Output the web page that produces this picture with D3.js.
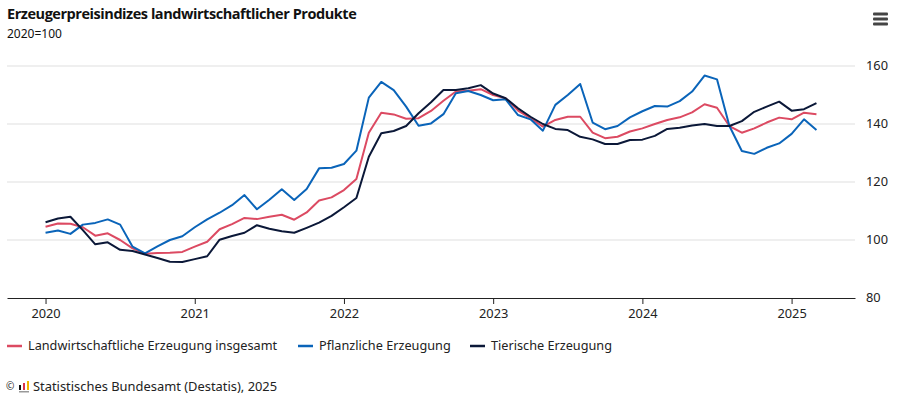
<!DOCTYPE html>
<html><head><meta charset="utf-8">
<script src="https://cdn.jsdelivr.net/npm/d3@7"></script>
<style>
body{margin:0;background:#fff;}
svg{display:block;font-family:"Noto Sans",sans-serif;}
</style></head>
<body><svg id="c" width="909" height="398"></svg>
<script>
const title = "Erzeugerpreisindizes landwirtschaftlicher Produkte";
const subtitle = "2020=100";
const yearLabels = ["2020","2021","2022","2023","2024","2025"];
const yearTickMonths = [0,12,24,36,48,60];
const yTicks = [80,100,120,140,160];
const seriesNames = ["Landwirtschaftliche Erzeugung insgesamt","Pflanzliche Erzeugung","Tierische Erzeugung"];
const seriesColors = ["#dc4a62","#0a64b9","#0b1838"];
const insgesamt = [104.6,105.7,105.6,104.4,101.5,102.3,100.0,97.1,95.3,95.5,95.6,95.9,97.7,99.4,103.7,105.5,107.6,107.2,108.0,108.7,107.0,109.5,113.6,114.7,117.2,121.0,137.0,143.9,143.3,141.8,142.0,144.5,148.0,151.2,151.5,152.0,150.0,148.9,144.6,142.0,139.1,141.4,142.5,142.5,137.0,135.1,135.6,137.4,138.5,140.0,141.4,142.3,144.0,146.8,145.6,139.3,137.0,138.5,140.5,142.2,141.6,143.9,143.4];
const pflanzlich = [102.5,103.3,102.1,105.3,105.9,107.1,105.3,97.7,95.4,97.8,100.0,101.3,104.4,107.1,109.4,112.0,115.5,110.6,113.9,117.5,113.8,117.6,124.7,124.9,126.2,130.8,149.1,154.5,151.7,146.0,139.4,140.2,143.4,150.6,151.4,150.0,148.2,148.5,143.1,141.6,137.7,146.6,150.0,153.8,140.5,138.2,139.3,142.3,144.4,146.2,146.0,147.9,151.2,156.7,155.4,139.3,130.7,129.7,131.8,133.3,136.6,141.6,137.9];
const tierisch = [106.1,107.4,108.0,103.4,98.5,99.2,96.6,96.2,95.0,93.8,92.5,92.4,93.4,94.4,100.1,101.4,102.5,105.1,103.9,103.0,102.5,104.2,106.0,108.3,111.3,114.5,128.7,136.8,137.6,139.3,143.7,147.5,151.7,151.7,152.3,153.4,150.5,148.9,145.4,142.5,140.0,138.3,137.9,135.6,134.7,133.1,133.1,134.5,134.6,135.9,138.3,138.7,139.5,140.0,139.3,139.3,141.0,144.2,146.0,147.7,144.6,145.1,147.2];
const footer = "Statistisches Bundesamt (Destatis), 2025";

const svg = d3.select("#c");
const L = 7, R = 855, T = 66, B = 298;
const x = d3.scaleLinear().domain([-3.1, 65.1]).range([L, R]);
const y = d3.scaleLinear().domain([80, 160]).range([B, T]);

// title
svg.append("text").attr("x",7).attr("y",19).attr("font-size",14.5).attr("font-weight",700)
  .attr("fill","#111").attr("font-family","'Open Sans',sans-serif").attr("letter-spacing",-0.45).text(title);
svg.append("text").attr("x",7).attr("y",38).attr("font-size",12).attr("fill","#111").text(subtitle);

// hamburger
[14,19,24].forEach(yy=>svg.append("rect").attr("x",873).attr("y",yy-1.5).attr("width",15).attr("height",3).attr("rx",1).attr("fill","#444"));

// grid
svg.append("g").selectAll("line").data(yTicks.filter(d=>d>80)).join("line")
  .attr("x1",L).attr("x2",R).attr("y1",d=>y(d)).attr("y2",d=>y(d))
  .attr("stroke","#efefef").attr("stroke-width",2);

// y labels
svg.append("g").selectAll("text").data(yTicks).join("text")
  .attr("x",866).attr("y",d=>y(d)).attr("dy","0.35em").attr("font-size",12.8).attr("fill","#222").text(d=>d);

// x axis
const xAxis = d3.axisBottom(x).tickValues(yearTickMonths).tickSize(6).tickSizeOuter(0)
  .tickFormat((d,i)=>yearLabels[i]);
const gx = svg.append("g").attr("transform",`translate(0,${B})`).call(xAxis);
gx.select(".domain").attr("stroke","#222");
gx.selectAll(".tick line").attr("stroke","#222");
gx.selectAll(".tick text").attr("font-size",12.8).attr("fill","#222").attr("font-family","'Noto Sans',sans-serif").attr("dy","0.85em");

// lines
const line = d3.line().x((d,i)=>x(i)).y(d=>y(d));
const data = [insgesamt, pflanzlich, tierisch];
svg.append("g").selectAll("path").data(data).join("path")
  .attr("d",line).attr("fill","none").attr("stroke",(d,i)=>seriesColors[i])
  .attr("stroke-width",2).attr("stroke-linejoin","round");

// legend
const legX = [7,298,470];
seriesNames.forEach((n,i)=>{
  svg.append("line").attr("x1",legX[i]).attr("x2",legX[i]+15).attr("y1",346).attr("y2",346)
    .attr("stroke",seriesColors[i]).attr("stroke-width",2.5);
  svg.append("text").attr("x",legX[i]+21).attr("y",346).attr("dy","0.35em").attr("font-size",12.7)
    .attr("fill","#222").text(n);
});

// footer
svg.append("text").attr("x",6).attr("y",386).attr("dy","0.35em").attr("font-size",10).attr("fill","#222").text("©");
const ic = svg.append("g").attr("transform","translate(19,381)");
ic.append("rect").attr("x",0).attr("y",4).attr("width",2).attr("height",5).attr("fill","#111");
ic.append("rect").attr("x",4).attr("y",2).attr("width",2).attr("height",7).attr("fill","#d9334a");
ic.append("rect").attr("x",8).attr("y",0).attr("width",2).attr("height",9).attr("fill","#f0b400");
ic.append("rect").attr("x",0).attr("y",10).attr("width",10).attr("height",1.5).attr("fill","#999");
svg.append("text").attr("x",33).attr("y",386).attr("dy","0.35em").attr("font-size",12.9).attr("fill","#222").text(footer);
</script></body></html>
